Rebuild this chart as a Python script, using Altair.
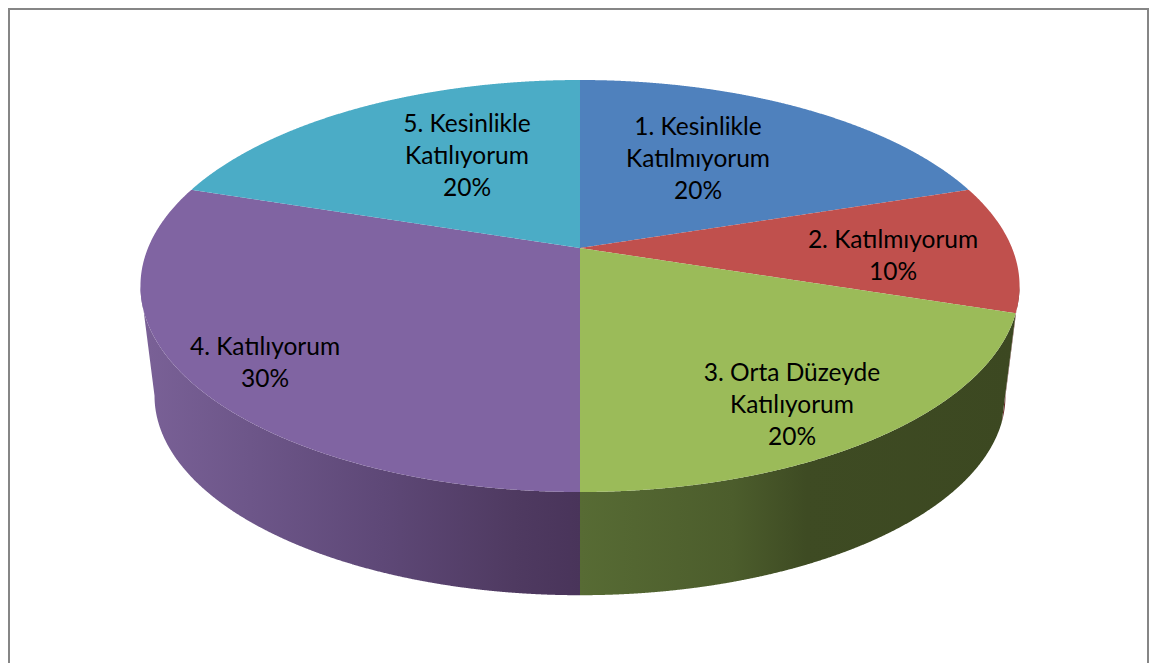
import numpy as np
import pandas as pd
import altair as alt

# ---- data ----
categories = ["1. Kesinlikle\nKatılmıyorum", "2. Katılmıyorum",
              "3. Orta Düzeyde\nKatılıyorum", "4. Katılıyorum",
              "5. Kesinlikle\nKatılıyorum"]
values = [20, 10, 20, 30, 20]
colors = ["#4f81bd", "#c0504d", "#9bbb59", "#8064a2", "#4bacc6"]

# ---- appearance / layout ----
W, H = 1141, 655                              # page area that fits inside the 8px margins
CX, CY_TOP, CY_BOT = 580.0, 248.0, 359.0
A, B, K, S = 432.0, 199.0, 0.1845, 0.968     # perspective of the disc
label_pos = [(698, 128), (893, 241), (792, 374), (265, 348), (467, 125)]
purple_stops = [(0, "#7a6197"), (0.25, "#6d5689"), (0.55, "#5e4877"), (0.85, "#4f3a61"), (1, "#49345a")]
green_stops = [(0, "#576b34"), (0.35, "#4c5d2c"), (0.52, "#3e4b23"), (1, "#3c4821")]
red_wall = "#6b2b2a"


def project(theta, scale=1.0, cy=CY_TOP):
    w = 1 + K * np.cos(theta)
    return CX + A * scale * np.sin(theta) / w, cy - B * scale * np.cos(theta) / w


def spans(px, py, n=500):
    """Upper/lower outline of a polygon for each x, as an area mark's x, y, y2."""
    grid = np.unique(np.round(np.r_[px, np.linspace(px.min(), px.max(), n)], 2))
    x1, y1, x2, y2 = px, py, np.roll(px, -1), np.roll(py, -1)
    rows = []
    for x in grid:
        hit = (np.minimum(x1, x2) <= x + 1e-6) & (np.maximum(x1, x2) >= x - 1e-6)
        ys = []
        for a, b, c, d in zip(x1[hit], y1[hit], x2[hit], y2[hit]):
            if abs(c - a) < 1e-9:
                ys += [b, d]
            else:
                ys.append(b + (d - b) * (x - a) / (c - a))
        if ys:
            rows.append((x, min(ys), max(ys)))
    return pd.DataFrame(rows, columns=["x", "y", "y2"])


edges = np.r_[0, np.cumsum(values)] / sum(values) * 2 * np.pi

faces = []
for cat, a0, a1 in zip(categories, edges[:-1], edges[1:]):
    t = np.linspace(a0, a1, 160)
    x, y = project(t)
    df = spans(np.r_[CX, x], np.r_[CY_TOP, y])
    df["cat"] = cat
    faces.append(df)
faces = pd.concat(faces)


def wall(a0, a1):
    t = np.linspace(a0, a1, 200)
    xt, yt = project(t)
    xb, yb = project(t[::-1], S, CY_BOT)
    return spans(np.r_[xt, xb], np.r_[yt, yb])


edge_angle = np.pi - np.arccos(K)          # where the disc's outline turns back
green_df = wall(edges[2], edges[3])
red_df = wall(edge_angle, edges[2])
purple_df = wall(edges[3], 2 * np.pi - edge_angle)

xs = alt.Scale(domain=[8, 8 + W], nice=False, zero=False)
ys = alt.Scale(domain=[8 + H, 8], nice=False, zero=False)
X = alt.X("x:Q", scale=xs, axis=None)
Y = alt.Y("y:Q", scale=ys, axis=None)


def grad(stops):
    return {"gradient": "linear", "x1": 0, "x2": 1, "y1": 0, "y2": 0,
            "stops": [{"offset": o, "color": c} for o, c in stops]}


def wall_layer(df, paint):
    return alt.Chart(df).mark_area(orient="vertical", fill=paint).encode(x=X, y=Y, y2="y2:Q")


top = alt.Chart(faces).mark_area(orient="vertical").encode(
    x=X, y=Y, y2="y2:Q",
    color=alt.Color("cat:N", scale=alt.Scale(domain=categories, range=colors), legend=None),
)

labels = pd.DataFrame({
    "x": [p[0] for p in label_pos],
    "y": [p[1] for p in label_pos],
    "t": [f"{c}\n{v}%" for c, v in zip(categories, values)],
})
text = alt.Chart(labels).mark_text(
    font="Lato", fontSize=24.5, color="#000000", lineBreak="\n", lineHeight=32,
    align="center", baseline="middle",
).encode(x=X, y=Y, text="t:N")

frame_v = pd.DataFrame({"x": [9, 7 + W], "y": [9, 9], "y2": [8 + H, 8 + H]})
frame_h = pd.DataFrame({"x": [8], "x2": [8 + W], "y": [9]})
border_v = alt.Chart(frame_v).mark_rule(color="#868686", strokeWidth=2).encode(x=X, y=Y, y2="y2:Q")
border_h = alt.Chart(frame_h).mark_rule(color="#868686", strokeWidth=2).encode(x=X, x2="x2:Q", y=Y)

chart = alt.layer(
    border_v, border_h,
    wall_layer(red_df, red_wall),
    wall_layer(purple_df, grad(purple_stops)),
    wall_layer(green_df, grad(green_stops)),
    top, text,
).properties(
    width=W, height=H, padding=0, autosize=alt.AutoSizeParams(type="none"),
).configure_view(stroke=None)

chart.save("out.html", embed_options={"renderer": "svg", "actions": False})
